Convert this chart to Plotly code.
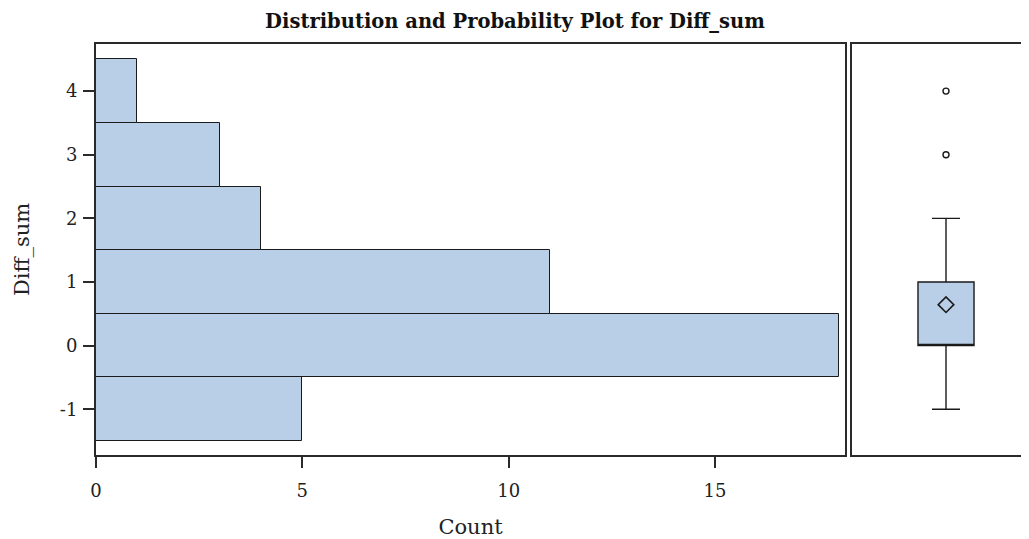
import plotly.graph_objects as go

# ---- data ----
bin_centers = [-1, 0, 1, 2, 3, 4]
counts = [5, 18, 11, 4, 3, 1]
box_q1 = [0]
box_median = [0]
box_q3 = [1]
box_lower = [-1]
box_upper = [2]
box_mean = [0.643]
outliers = [3, 4]
x_ticks = [0, 5, 10, 15]
y_ticks = [-1, 0, 1, 2, 3, 4]
y_tick_labels = ["-1", "0", "1", "2", "3", "4"]

FILL = "#B9CFE7"
LINE = "#1a1a1a"
AXC = "#2a2a2a"
FONT = "DejaVu Serif"

W, H = 1029, 539
OFF = 8  # page body margin


def px_x(p):
    return (p - OFF) / W


def px_y(p):
    return 1 - (p - OFF) / H


fig = go.Figure()

fig.add_trace(go.Bar(
    y=bin_centers, x=counts, orientation="h", width=1,
    marker=dict(color=FILL, line=dict(color=LINE, width=1)),
    xaxis="x", yaxis="y", showlegend=False, hoverinfo="x+y",
))

fig.add_trace(go.Box(
    x=[0], q1=box_q1, median=box_median, q3=box_q3,
    lowerfence=box_lower, upperfence=box_upper,
    width=0.596, whiskerwidth=0.5, fillcolor=FILL,
    line=dict(color=LINE, width=1.4), boxpoints=False,
    xaxis="x2", yaxis="y2", showlegend=False,
))

fig.add_trace(go.Scatter(
    x=[0], y=box_mean, mode="markers",
    marker=dict(symbol="diamond-open", size=12, color=LINE, line=dict(width=1.6)),
    xaxis="x2", yaxis="y2", showlegend=False,
))

fig.add_trace(go.Scatter(
    x=[0] * len(outliers), y=outliers, mode="markers",
    marker=dict(symbol="circle-open", size=6, color=LINE, line=dict(width=1.4)),
    xaxis="x2", yaxis="y2", showlegend=False,
))

yr = [-1.72, 4.74]
ydom = [px_y(455), px_y(44)]

fig.update_layout(
    width=W, height=H,
    margin=dict(l=0, r=0, t=0, b=0, autoexpand=False),
    paper_bgcolor="white", plot_bgcolor="white",
    font=dict(family=FONT, color="#222222", size=18),
    title=dict(text="<b>Distribution and Probability Plot for Diff_sum</b>",
               x=px_x(515), xanchor="center", y=px_y(21), yanchor="middle",
               automargin=False,
               font=dict(family=FONT, size=19.5, color="#111111")),
    bargap=0,
    xaxis=dict(domain=[px_x(96), px_x(845)], range=[0, 18.15],
               tickvals=x_ticks, ticks="outside", ticklen=11, tickwidth=1.5,
               tickcolor=AXC, showline=True, linecolor=AXC, linewidth=2,
               mirror=True, showgrid=False, zeroline=False, automargin=False,
               tickfont=dict(size=18), ticklabelstandoff=7,
               title=dict(text="Count", standoff=20, font=dict(size=21)),
               anchor="y"),
    yaxis=dict(domain=ydom, range=yr, tickvals=y_ticks, ticktext=y_tick_labels,
               ticks="outside", ticklen=11, tickwidth=1.5, tickcolor=AXC,
               showline=True, linecolor=AXC, linewidth=2, mirror=True,
               showgrid=False, zeroline=False, automargin=False,
               tickfont=dict(size=18), ticklabelstandoff=2,
               title=dict(text="Diff_sum", standoff=25, font=dict(size=21)),
               anchor="x"),
    xaxis2=dict(domain=[px_x(852), 1.0], range=[-1, 0.968],
                showticklabels=False, ticks="", showgrid=False, zeroline=False,
                showline=True, linecolor=AXC, linewidth=2, mirror=True,
                automargin=False, anchor="y2"),
    yaxis2=dict(domain=ydom, range=yr, showticklabels=False, ticks="",
                showgrid=False, zeroline=False, showline=True, automargin=False,
                linecolor=AXC, linewidth=2, mirror=False, anchor="x2"),
)

fig.write_html("out.html")
